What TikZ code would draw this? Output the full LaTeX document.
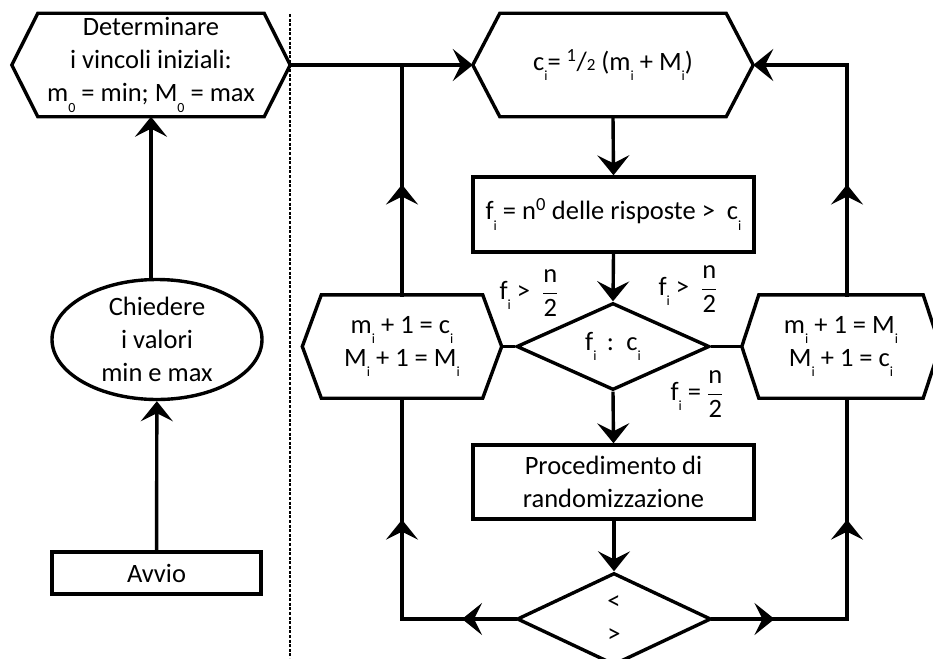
\documentclass[tikz,border=0pt]{standalone}
\usepackage{amsmath}
\usepackage{fontspec}
\setmainfont{Carlito}
\usetikzlibrary{positioning, shapes.geometric, arrows.meta, decorations.markings}

\newcommand{\lo}[1]{\raisebox{-0.4em}{\fontsize{14}{14}\selectfont #1}}
\newcommand{\frc}[2]{$\dfrac{\text{#1}}{\text{#2}}$}
\newcommand{\hexframe}[2]{\draw[outline] (#1.west) -- ([xshift=#2]#1.north west) -- ([xshift=-#2]#1.north east) -- (#1.east) -- ([xshift=-#2]#1.south east) -- ([xshift=#2]#1.south west) -- cycle;}

\tikzset{
  every node/.style={font=\fontsize{26.5}{33}\selectfont},
  outline/.style={line width=3.4pt, line join=miter},
  box/.style={draw, outline, inner sep=0pt, align=center},
  hexbox/.style={minimum width=#1, minimum height=103pt, inner sep=0pt, align=center},
  flow/.style={line width=3.4pt, -{Stealth[length=20pt, width=32pt, inset=8pt]}},
  midflow/.style={line width=3.4pt, line cap=rect, postaction={decorate},
    decoration={markings, mark=at position #1 with {\arrow{Stealth[length=20pt, width=32pt, inset=8pt]}}}},
  divider/.style={line width=2.6pt, dash pattern=on 3pt off 1.6pt}
}

\begin{document}
\begin{tikzpicture}[x=1pt, y=-1pt]
        \useasboundingbox (0,0) rectangle (933,658);
        % left column
        \node[hexbox=278] (init) at (151,65) {Determinare\\i vincoli iniziali:\\m\lo{0} = min; M\lo{0} = max};
        \node[ellipse, draw, outline, minimum width=210, minimum height=120, inner sep=-6pt, align=center] (ask) at (157,339.5) {Chiedere\\i valori\\min e max};
        \node[box, minimum width=209, minimum height=42] (start) at (156.5,573) {Avvio};
        % divider
        \coordinate (dtop) at (290,14);
        \coordinate (dbot) at (290,658);
        % main loop
        \node[hexbox=280] (mid) at (613,65) {c\lo{i}= \textsuperscript{1}/{\fontsize{17}{17}\selectfont 2} (m\lo{i} + M\lo{i})};
        \node[box, minimum width=281, minimum height=75] (count) at (613.5,214.5) {f\lo{i} = n\textsuperscript{0} delle risposte > \ c\lo{i}};
        \node[diamond, draw, outline, minimum width=193, minimum height=87, inner sep=0pt, aspect=2.2] (cmp) at (613,346.5) {f\lo{i} \,:\, c\lo{i}};
        \node[hexbox=199] (lhex) at (402,346.5) {m\lo{i} + 1 = c\lo{i}\\M\lo{i} + 1 = M\lo{i}};
        \node[hexbox=198] (rhex) at (841,346.5) {m\lo{i} + 1 = M\lo{i}\\M\lo{i} + 1 = c\lo{i}};
        \node[box, minimum width=281, minimum height=74] (rand) at (613.5,482) {Procedimento di\\randomizzazione};
        \node[diamond, draw, outline, minimum width=194, minimum height=92, inner sep=0pt, aspect=2.1, align=center] (check) at (614,619) {<\\>};
        % labels
        \node (gtl) at (529,293) {f\lo{i} > \ \frc{n}{2}};
        \node (gtr) at (688,289) {f\lo{i} > \ \frc{n}{2}};
        \node (eql) at (697,394) {f\lo{i} = \frc{n}{2}};
        % corners
        \coordinate (ltop) at (402,65);
        \coordinate (lbot) at (402,619);
        \coordinate (rtop) at (847,65);
        \coordinate (rbot) at (847,619);

        \hexframe{init}{26}
        \hexframe{mid}{27}
        \hexframe{lhex}{19}
        \hexframe{rhex}{17}

        % Now the connectors
        \draw[divider] (dtop) -- (dbot);
        \draw[flow] (start) -- (ask);
        \draw[flow] (ask.north -| init.south) -- (init.south);
        \draw[flow] (init.east) -- (mid.west);
        \draw[flow] (mid.south) -- (count.north);
        \draw[flow] (count.south) -- (cmp.north);
        \draw[outline] (cmp.west) -- (lhex.east);
        \draw[outline] (cmp.east) -- (rhex.west);
        \draw[flow] (cmp.south) -- (rand.north);
        \draw[flow] (rand.south -| check.north) -- (check.north);
        \draw[midflow=0.47] (check.west) -- (lbot);
        \draw[midflow=0.45] (lbot) -- (lhex.south);
        \draw[midflow=0.48] (lhex.north) -- (ltop);
        \draw[midflow=0.46] (check.east) -- (rbot);
        \draw[midflow=0.45] (rbot) -- (rhex.south -| rbot);
        \draw[midflow=0.48] (rhex.north -| rbot) -- (rtop);
        \draw[flow] (rtop) -- (mid.east);
    \end{tikzpicture}
\end{document}
